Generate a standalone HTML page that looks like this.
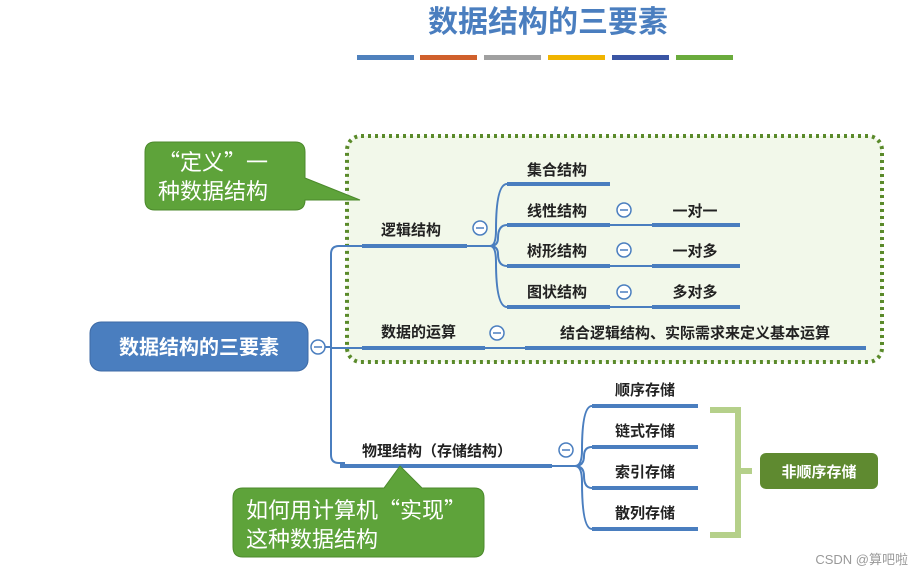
<!DOCTYPE html>
<html><head><meta charset="utf-8"><style>
html,body{margin:0;padding:0;background:#fff;}
svg{display:block;}
text{font-family:"Liberation Sans","Noto Sans CJK SC",sans-serif;}
.cjk{font-family:"Noto Sans CJK SC",sans-serif;}
</style></head><body>
<svg width="923" height="576" viewBox="0 0 923 576" xmlns="http://www.w3.org/2000/svg">
<text x="548" y="32" text-anchor="middle" font-size="30" font-weight="bold" fill="#4a7ebf">数据结构的三要素</text>
<rect x="357" y="55" width="57" height="5" fill="#4f81bd"/>
<rect x="420" y="55" width="57" height="5" fill="#d0602c"/>
<rect x="484" y="55" width="57" height="5" fill="#a0a0a0"/>
<rect x="548" y="55" width="57" height="5" fill="#f0b400"/>
<rect x="612" y="55" width="57" height="5" fill="#3a55a4"/>
<rect x="676" y="55" width="57" height="5" fill="#6aab3c"/>

<rect x="347" y="136" width="535" height="226" rx="14" fill="#f2f8ea" stroke="#5a8a2a" stroke-width="4" stroke-dasharray="3 4"/>

<path d="M155 142 H295 Q305 142 305 152 V178 L360 200 L305 200 V200 Q305 210 295 210 H155 Q145 210 145 200 V152 Q145 142 155 142 Z" fill="#5ea33a" stroke="#4c8a2c"/>
<text class="cjk" x="158" y="170" font-size="22" fill="#fff">“定义”一</text>
<text class="cjk" x="158" y="199" font-size="22" fill="#fff">种数据结构</text>

<g fill="none" stroke="#4a7ebf" stroke-width="2">
<path d="M325 347 H331 M362 246 H339 Q331 246 331 254 V455 Q331 463 339 463 H345"/>
<path d="M331 348 H362"/>
<path d="M467 246 H490 M490 246 Q496 246 496 230 Q496 184 507 184 M490 246 Q498 246 498 238 Q498 225 507 225 M490 246 Q498 246 498 254 Q498 266 507 266 M490 246 Q496 246 496 262 Q496 307 507 307"/>
<path d="M485 348 H525"/>
<path d="M552 466 H575 Q582 466 582 450 Q582 406 592 406 M575 466 Q584 466 584 456 Q584 447 592 447 M575 466 Q584 466 584 476 Q584 488 592 488 M575 466 Q582 466 582 482 Q582 529 592 529"/>
<path d="M610 266 H652 M610 225 H652 M610 307 H652"/>
</g>
<g stroke="#4a7ebf" stroke-width="4">
<line x1="362" y1="246" x2="467" y2="246"/>
<line x1="362" y1="348" x2="485" y2="348"/>
<line x1="340" y1="466" x2="552" y2="466"/>
<line x1="507" y1="184" x2="610" y2="184"/>
<line x1="507" y1="225" x2="610" y2="225"/>
<line x1="507" y1="266" x2="610" y2="266"/>
<line x1="507" y1="307" x2="610" y2="307"/>
<line x1="652" y1="225" x2="740" y2="225"/>
<line x1="652" y1="266" x2="740" y2="266"/>
<line x1="652" y1="307" x2="740" y2="307"/>
<line x1="525" y1="348" x2="866" y2="348"/>
<line x1="592" y1="406" x2="698" y2="406"/>
<line x1="592" y1="447" x2="698" y2="447"/>
<line x1="592" y1="488" x2="698" y2="488"/>
<line x1="592" y1="529" x2="698" y2="529"/>
</g>

<rect x="90" y="322" width="218" height="49" rx="11" fill="#4a7ebf" stroke="#3d6aa5"/>
<text x="199" y="354" text-anchor="middle" font-size="20" font-weight="bold" fill="#fff">数据结构的三要素</text>

<g fill="#fff" stroke="#4a7ebf" stroke-width="1.5">
<circle cx="318" cy="347" r="7"/><circle cx="480" cy="228" r="7"/><circle cx="497" cy="333" r="7"/>
<circle cx="624" cy="210" r="7"/><circle cx="624" cy="250" r="7"/><circle cx="624" cy="292" r="7"/><circle cx="566" cy="450" r="7"/>
</g>
<g stroke="#4a7ebf" stroke-width="1.5">
<line x1="314" y1="347" x2="322" y2="347"/><line x1="476" y1="228" x2="484" y2="228"/><line x1="493" y1="333" x2="501" y2="333"/>
<line x1="620" y1="210" x2="628" y2="210"/><line x1="620" y1="250" x2="628" y2="250"/><line x1="620" y1="292" x2="628" y2="292"/><line x1="562" y1="450" x2="570" y2="450"/>
</g>

<g font-size="15" fill="#222" font-weight="600">
<text x="381" y="235">逻辑结构</text>
<text x="381" y="337">数据的运算</text>
<text x="362" y="456">物理结构（存储结构）</text>
<text x="527" y="175">集合结构</text>
<text x="527" y="216">线性结构</text>
<text x="527" y="256">树形结构</text>
<text x="527" y="297">图状结构</text>
<text x="695" y="216" text-anchor="middle">一对一</text>
<text x="695" y="256" text-anchor="middle">一对多</text>
<text x="695" y="297" text-anchor="middle">多对多</text>
<text x="695" y="338" text-anchor="middle">结合逻辑结构、实际需求来定义基本运算</text>
<text x="645" y="395" text-anchor="middle">顺序存储</text>
<text x="645" y="436" text-anchor="middle">链式存储</text>
<text x="645" y="477" text-anchor="middle">索引存储</text>
<text x="645" y="518" text-anchor="middle">散列存储</text>
</g>

<path d="M710 410 H738 V535 H710 M738 471 H752" fill="none" stroke="#b5d08a" stroke-width="6"/>
<rect x="760" y="453" width="118" height="36" rx="6" fill="#5f8a30"/>
<text x="819" y="477" text-anchor="middle" font-size="15" font-weight="bold" fill="#fff">非顺序存储</text>

<path d="M243 488 H384 L400 466 L422 488 H474 Q484 488 484 498 V547 Q484 557 474 557 H243 Q233 557 233 547 V498 Q233 488 243 488 Z" fill="#5ea33a" stroke="#4c8a2c"/>
<text class="cjk" x="246" y="518" font-size="22" fill="#fff">如何用计算机“实现”</text>
<text class="cjk" x="246" y="547" font-size="22" fill="#fff">这种数据结构</text>

<text x="908" y="564" text-anchor="end" font-size="13" fill="#999">CSDN @算吧啦</text>
</svg>
</body></html>
